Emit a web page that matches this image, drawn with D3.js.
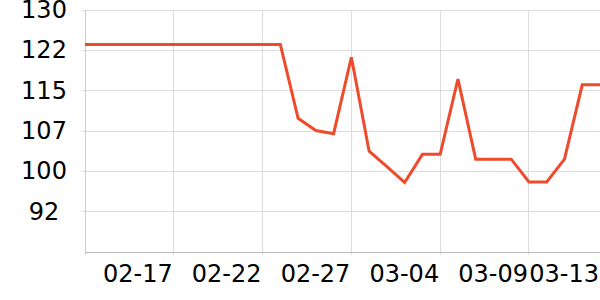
<!DOCTYPE html>
<html>
<head>
<meta charset="utf-8">
<script src="https://cdn.jsdelivr.net/npm/d3@7/dist/d3.min.js"></script>
<style>
  html, body { margin: 0; padding: 0; background: #fff; }
  svg { display: block; font-family: "DejaVu Sans", sans-serif; }
</style>
</head>
<body>
<script>
// ---- data ----
const dates = [
  "02-14","02-15","02-16","02-17","02-18","02-19","02-20","02-21","02-22","02-23",
  "02-24","02-25","02-26","02-27","02-28","03-01","03-02","03-03","03-04","03-05",
  "03-06","03-07","03-08","03-09","03-10","03-11","03-12","03-13","03-14","03-15"
];
const values = [
  123.5,123.5,123.5,123.5,123.5,123.5,123.5,123.5,123.5,123.5,
  123.5,123.5,109.6,107.3,106.7,121.1,103.4,100.5,97.5,102.8,
  102.8,117.0,101.9,101.9,101.9,97.6,97.6,101.9,115.9,115.9
];
const yTickValues = [92, 99.6, 107.2, 114.8, 122.4, 130];
const yTickLabels = ["92", "100", "107", "115", "122", "130"];
const xGridIndex = [5, 10, 15, 20, 25];
const xLabelIndex = [5, 10, 15, 20, 25, 29];
const xTickLabels = ["02-17", "02-22", "02-27", "03-04", "03-09", "03-13"];
const yDomain = [84.4, 130];

// ---- chart ----
const W = 600, H = 300;
const m = { left: 85, right: 0, top: 10, bottom: 48 };
const svg = d3.select("body").append("svg").attr("width", W).attr("height", H);

const x = d3.scaleLinear().domain([0, dates.length - 1]).range([m.left, W - m.right]);
const y = d3.scaleLinear().domain(yDomain).range([H - m.bottom, m.top]);

// horizontal grid
svg.append("g").selectAll("line").data(yTickValues).join("line")
  .attr("x1", m.left - 3).attr("x2", W)
  .attr("y1", d => y(d)).attr("y2", d => y(d))
  .attr("stroke", "#dcdcdc").attr("stroke-width", 1).attr("shape-rendering", "crispEdges");

// vertical grid
svg.append("g").selectAll("line").data(xGridIndex).join("line")
  .attr("x1", d => x(d)).attr("x2", d => x(d))
  .attr("y1", m.top).attr("y2", H - m.bottom + 3)
  .attr("stroke", "#dcdcdc").attr("stroke-width", 1).attr("shape-rendering", "crispEdges");

// axes lines
svg.append("line").attr("x1", x(0)).attr("x2", x(0)).attr("y1", m.top).attr("y2", H - m.bottom + 3)
  .attr("stroke", "#cccccc").attr("shape-rendering", "crispEdges");
svg.append("line").attr("x1", m.left).attr("x2", W).attr("y1", y(yDomain[0])).attr("y2", y(yDomain[0]))
  .attr("stroke", "#bbbbbb").attr("shape-rendering", "crispEdges");

// y labels
svg.append("g").selectAll("text").data(yTickValues).join("text")
  .attr("x", 44).attr("y", d => y(d))
  .attr("text-anchor", "middle").attr("dominant-baseline", "central")
  .attr("font-size", 24).attr("fill", "#000")
  .text((d, i) => yTickLabels[i]);

// x labels
svg.append("g").selectAll("text").data(xLabelIndex).join("text")
  .attr("x", d => x(d) - 1).attr("y", 274)
  .attr("text-anchor", "end").attr("dominant-baseline", "central")
  .attr("font-size", 24).attr("fill", "#000")
  .text((d, i) => xTickLabels[i]);

// line
const line = d3.line().x((d, i) => x(i)).y(d => y(d));
svg.append("path").datum(values)
  .attr("d", line).attr("fill", "none")
  .attr("stroke", "#ee4b2d").attr("stroke-width", 3).attr("stroke-linejoin", "miter");
</script>
</body>
</html>
